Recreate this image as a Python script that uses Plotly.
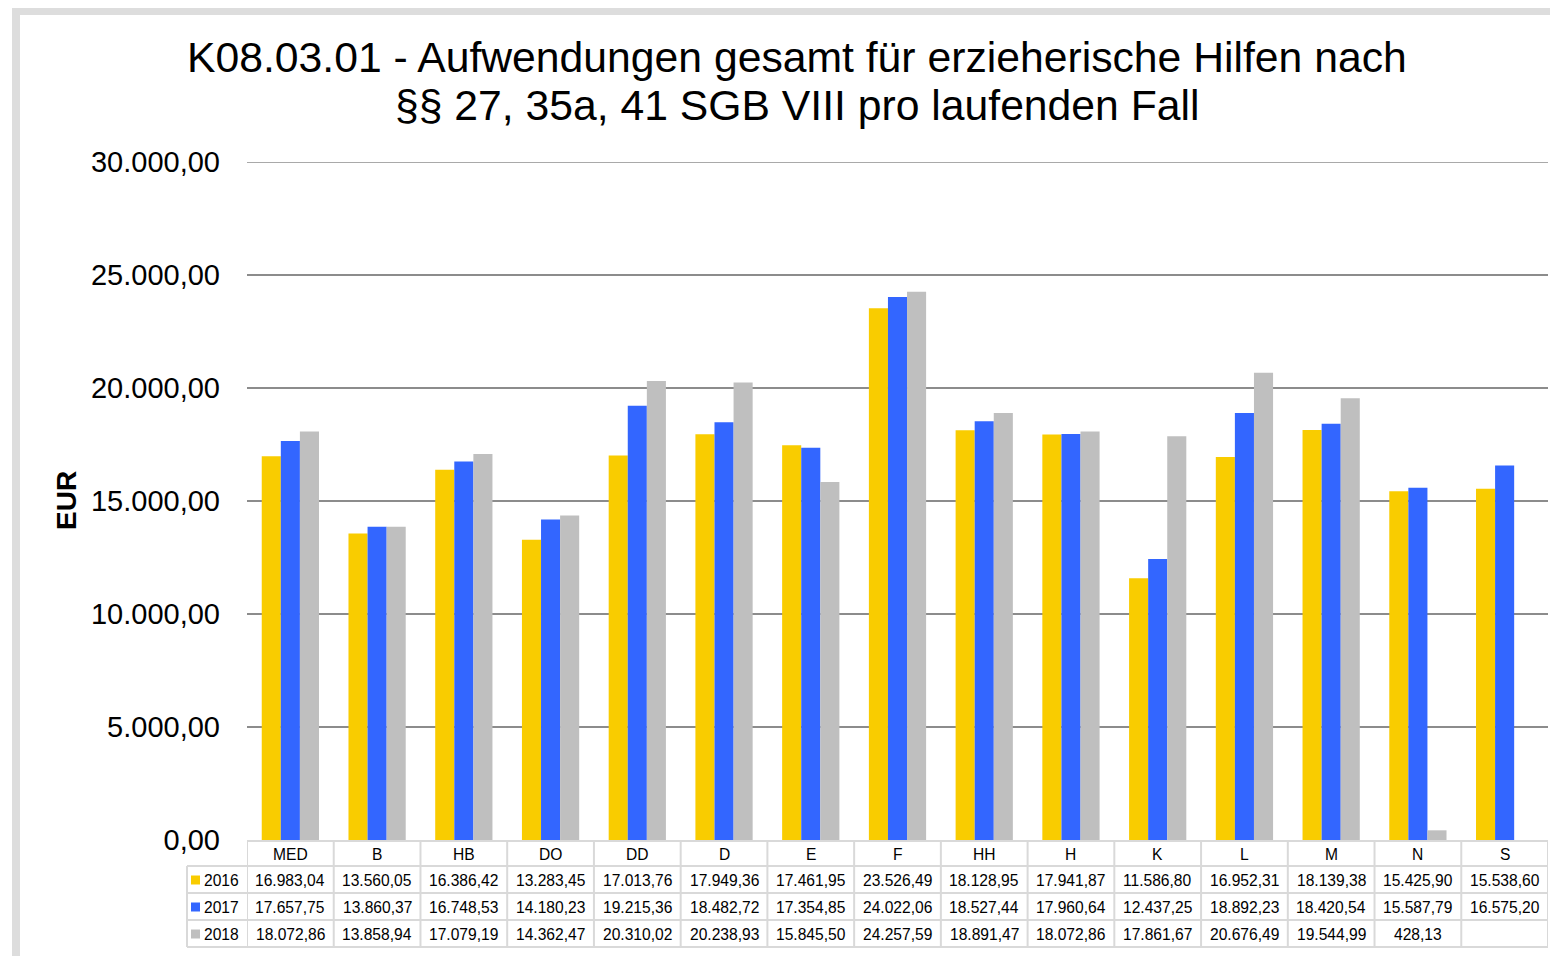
import plotly.graph_objects as go

categories = ["MED", "B", "HB", "DO", "DD", "D", "E", "F", "HH", "H", "K", "L", "M", "N", "S"]
series_names = ["2016", "2017", "2018"]
values_2016 = [16983.04, 13560.05, 16386.42, 13283.45, 17013.76, 17949.36, 17461.95, 23526.49,
               18128.95, 17941.87, 11586.80, 16952.31, 18139.38, 15425.90, 15538.60]
values_2017 = [17657.75, 13860.37, 16748.53, 14180.23, 19215.36, 18482.72, 17354.85, 24022.06,
               18527.44, 17960.64, 12437.25, 18892.23, 18420.54, 15587.79, 16575.20]
values_2018 = [18072.86, 13858.94, 17079.19, 14362.47, 20310.02, 20238.93, 15845.50, 24257.59,
               18891.47, 18072.86, 17861.67, 20676.49, 19544.99, 428.13, None]
colors = ["#F9CC00", "#3366FF", "#BFBFBF"]
y_ticks = [0, 5000, 10000, 15000, 20000, 25000, 30000]

FONT = "Liberation Sans, Arial, sans-serif"
OFF = 8  # default body margin of the page
W_FIG, H_FIG = 1558 - OFF, 956 - OFF
# plot area in screen pixels
L, R, T, B = 247, 1548, 162, 840
PW, PH = R - L, B - T


def px(x):
    return (x - L) / PW


def py(y):
    return (B - y) / PH


def fmt(v):
    if v is None:
        return ""
    s = f"{v:,.2f}"
    return s.replace(",", "X").replace(".", ",").replace("X", ".")


fig = go.Figure()
all_vals = [values_2016, values_2017, values_2018]
for name, vals, col in zip(series_names, all_vals, colors):
    fig.add_trace(go.Bar(x=categories, y=vals, name=name, marker=dict(color=col, line=dict(width=0)),
                         showlegend=False))

shapes = []
annotations = []
line_col = "#D9D9D9"
grid_col = "#8C8C8C"

# outer frame
shapes.append(dict(type="rect", xref="paper", yref="paper", x0=px(16), x1=px(1580), y0=py(11), y1=py(990),
                   line=dict(color="#DDDDDD", width=8), fillcolor="rgba(0,0,0,0)", layer="below"))

# top gridline at 30000 (edge of range)
shapes.append(dict(type="line", xref="paper", yref="y", x0=0, x1=1, y0=y_ticks[-1], y1=y_ticks[-1],
                   line=dict(color=grid_col, width=1.5), layer="below"))

# table geometry
row_lines = [841, 866, 893, 920, 947]
shapes.append(dict(type="line", xref="paper", yref="paper", x0=0, x1=1, y0=py(row_lines[0]), y1=py(row_lines[0]),
                   line=dict(color=line_col, width=2), layer="above"))
for yy in row_lines[1:]:
    shapes.append(dict(type="line", xref="paper", yref="paper", x0=px(187), x1=1, y0=py(yy), y1=py(yy),
                       line=dict(color=line_col, width=2), layer="above"))
for k in range(len(categories) + 1):
    xv = -0.5 + k
    shapes.append(dict(type="line", xref="x", yref="paper", x0=xv, x1=xv, y0=py(row_lines[0]), y1=py(row_lines[-1]),
                       line=dict(color=line_col, width=2), layer="above"))
shapes.append(dict(type="line", xref="paper", yref="paper", x0=px(187), x1=px(187), y0=py(row_lines[1]),
                   y1=py(row_lines[-1]), line=dict(color=line_col, width=2), layer="above"))

row_centers = [(row_lines[i] + row_lines[i + 1]) / 2 + 0.5 for i in range(4)]

for c in categories:
    annotations.append(dict(x=c, xref="x", y=py(row_centers[0]), yref="paper", text=c, showarrow=False,
                            font=dict(family=FONT, size=15.6, color="#000000"), xanchor="center", yanchor="middle"))

for r, (name, vals, col) in enumerate(zip(series_names, all_vals, colors)):
    yc = row_centers[r + 1]
    shapes.append(dict(type="rect", xref="paper", yref="paper", x0=px(191), x1=px(200), y0=py(yc + 4.5),
                       y1=py(yc - 4.5), fillcolor=col, line=dict(width=0), layer="above"))
    annotations.append(dict(x=px(202), xref="paper", y=py(yc), yref="paper", text=name, showarrow=False,
                            font=dict(family=FONT, size=15.6, color="#000000"), xanchor="left", yanchor="middle"))
    for c, v in zip(categories, vals):
        annotations.append(dict(x=c, xref="x", y=py(yc), yref="paper", text=fmt(v), showarrow=False,
                                font=dict(family=FONT, size=15.6, color="#000000"), xanchor="center",
                                yanchor="middle"))

# title lines
annotations.append(dict(x=px(797), xref="paper", y=py(57), yref="paper",
                        text="K08.03.01 - Aufwendungen gesamt für erzieherische Hilfen nach", showarrow=False,
                        font=dict(family=FONT, size=42.7, color="#000000"), xanchor="center", yanchor="middle"))
annotations.append(dict(x=px(797), xref="paper", y=py(105), yref="paper",
                        text="§§ 27, 35a, 41 SGB VIII pro laufenden Fall", showarrow=False,
                        font=dict(family=FONT, size=42.7, color="#000000"), xanchor="center", yanchor="middle"))
# y axis title
annotations.append(dict(x=px(66), xref="paper", y=py(501), yref="paper", text="<b>EUR</b>", showarrow=False,
                        textangle=-90, font=dict(family=FONT, size=28, color="#000000"), xanchor="center",
                        yanchor="middle"))

fig.update_layout(
    width=W_FIG, height=H_FIG,
    margin=dict(l=L - OFF, r=W_FIG - (R - OFF), t=T - OFF, b=H_FIG - (B - OFF), autoexpand=False),
    paper_bgcolor="#FFFFFF", plot_bgcolor="#FFFFFF",
    barmode="group", bargap=0.34, bargroupgap=0,
    separators=",.",
    font=dict(family=FONT, color="#000000"),
    shapes=shapes, annotations=annotations,
    xaxis=dict(type="category", range=[-0.5, len(categories) - 0.5], showticklabels=False, showgrid=False,
               zeroline=False, showline=False, ticks=""),
    yaxis=dict(range=[0, 30000], tickvals=y_ticks, tickformat=",.2f", showgrid=True, gridcolor=grid_col,
               gridwidth=1.5, zeroline=False, showline=False, ticks="", ticklabelstandoff=26,
               tickfont=dict(family=FONT, size=29, color="#000000")),
)

fig.write_html("out.html")
